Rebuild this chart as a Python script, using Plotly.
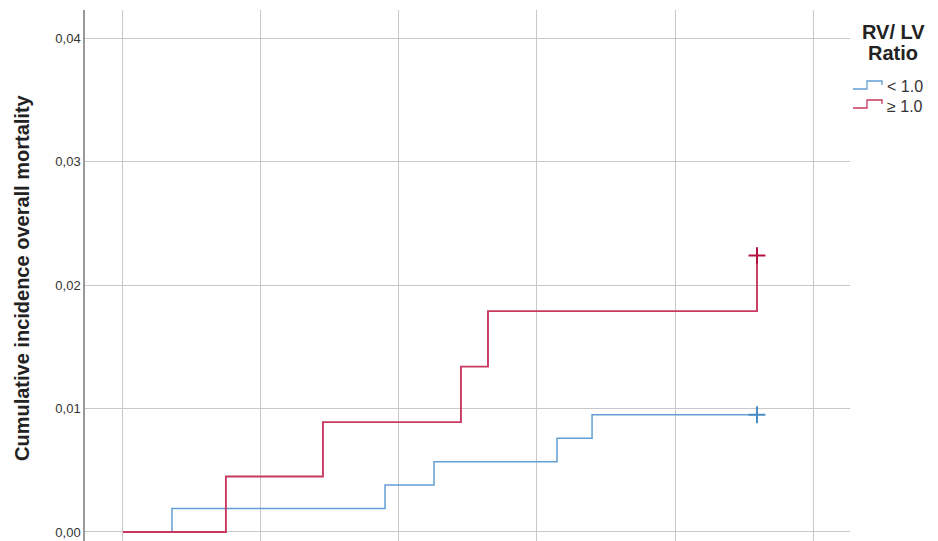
import plotly.graph_objects as go

# ---- data ----
blue_name = "< 1.0"
blue_t = [0, 0.355, 1.899, 2.254, 3.145, 3.399, 4.594]
blue_y = [0, 0.0019, 0.0038, 0.0057, 0.0076, 0.0095, 0.0095]
blue_cens_t = [4.594]
blue_cens_y = [0.0095]

red_name = "≥ 1.0"
red_t = [0, 0.746, 1.449, 2.449, 2.645, 4.594]
red_y = [0, 0.0045, 0.0089, 0.0134, 0.0179, 0.0224]
red_cens_t = [4.594]
red_cens_y = [0.0224]

y_ticks = [0.0, 0.01, 0.02, 0.03, 0.04]
x_ticks = [0, 1, 2, 3, 4, 5]

legend_title = ["RV/ LV", "Ratio"]
y_title = "Cumulative incidence overall mortality"

BLUE = "#639fd4"
RED = "#c8385f"
RED_DARK = "#b3123f"
BLUE_DARK = "#4a8cc6"
FONT = "Liberation Sans, Arial"

W, H = 938, 541
L, R, T, B = 85, 88, 10, 0

fig = go.Figure()
fig.add_trace(go.Scatter(x=blue_t, y=blue_y, mode="lines", line=dict(color=BLUE, width=1.5, shape="hv"),
                         name=blue_name, showlegend=False))
fig.add_trace(go.Scatter(x=red_t, y=red_y, mode="lines", line=dict(color=RED, width=1.9, shape="hv"),
                         name=red_name, showlegend=False))
fig.add_trace(go.Scatter(x=blue_cens_t, y=blue_cens_y, mode="markers",
                         marker=dict(symbol="cross-thin", size=12, line=dict(color=BLUE_DARK, width=2)),
                         showlegend=False))
fig.add_trace(go.Scatter(x=red_cens_t, y=red_cens_y, mode="markers",
                         marker=dict(symbol="cross-thin", size=12, line=dict(color=RED_DARK, width=2)),
                         showlegend=False))

pw = W - L - R
ph = H - T - B
def px(p):
    return (p - L) / pw
def py(p):
    return (H - B - p) / ph

# y-axis title
fig.add_annotation(x=px(22), y=py(278), xref="paper", yref="paper", text="<b>%s</b>" % y_title,
                   textangle=-90, showarrow=False, xanchor="center", yanchor="middle",
                   font=dict(family=FONT, size=20, color="#222"))

# manual legend
for txt, yy in zip(legend_title, [32, 53]):
    fig.add_annotation(x=px(893), y=py(yy), xref="paper", yref="paper", text="<b>%s</b>" % txt,
                       showarrow=False, xanchor="center", yanchor="middle",
                       font=dict(family=FONT, size=20, color="#222"))
for (yy, col, lab) in [(87, BLUE, blue_name), (106, RED, red_name)]:
    path = "M {x0},{y0} L {x1},{y0} L {x1},{y1} L {x2},{y1} L {x2},{y2}".format(
        x0=px(853), x1=px(867), x2=px(882), y0=py(yy + 2), y1=py(yy - 6), y2=py(yy - 2))
    fig.add_shape(type="path", path=path, xref="paper", yref="paper",
                  line=dict(color=col, width=1.3))
    fig.add_annotation(x=px(885), y=py(yy), xref="paper", yref="paper", text=lab, showarrow=False,
                       xanchor="left", yanchor="middle",
                       font=dict(family=FONT, size=16, color="#333"))

fig.update_layout(
    width=W, height=H, margin=dict(l=L, r=R, t=T, b=B),
    paper_bgcolor="white", plot_bgcolor="white",
    separators=",.",
    showlegend=False,
    xaxis=dict(range=[-0.275, 5.268], tickvals=x_ticks, showticklabels=False, ticks="",
               showgrid=True, gridcolor="#c8c8c8", gridwidth=1, zeroline=False, showline=False),
    yaxis=dict(range=[-0.00073, 0.0423], tickvals=y_ticks, tickformat=".2f",
               showgrid=True, gridcolor="#c8c8c8", gridwidth=1, zeroline=False,
               showline=True, linecolor="#999", linewidth=1.5, ticks="",
               tickfont=dict(family=FONT, size=13, color="#333")),
)

fig.write_html("out.html")
